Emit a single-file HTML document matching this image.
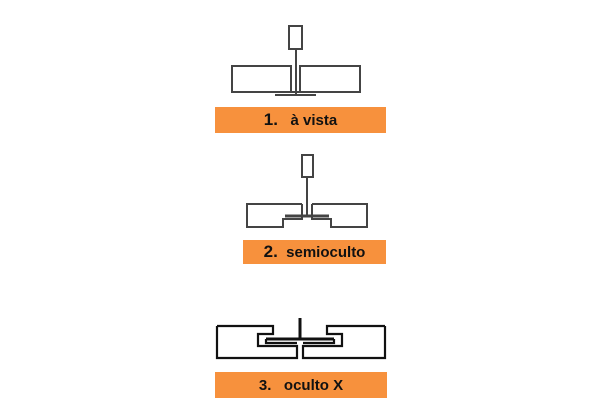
<!DOCTYPE html>
<html><head><meta charset="utf-8"><style>
html,body{margin:0;padding:0;background:#fff;}
body{width:600px;height:400px;position:relative;overflow:hidden;font-family:"Liberation Sans",sans-serif;}
.bar{position:absolute;background:#f7913d;color:#111;font-weight:bold;font-size:15px;display:flex;align-items:center;justify-content:center;}
</style></head><body>
<svg width="600" height="400" style="position:absolute;left:0;top:0" fill="none" stroke-linejoin="miter">
<g stroke="#444" stroke-width="2">
<rect x="289" y="26" width="13" height="23"/>
<line x1="296" y1="49" x2="296" y2="95"/>
<rect x="232" y="66" width="59" height="26"/>
<rect x="300" y="66" width="60" height="26"/>
<line x1="275" y1="95" x2="316" y2="95"/>
<line x1="291" y1="92" x2="300" y2="92"/>

<rect x="302" y="155" width="11" height="22"/>
<line x1="307" y1="177" x2="307" y2="216"/>
<polyline points="302,204 247,204 247,227 283,227 283,219 302,219 302,204"/>
<polyline points="312,204 367,204 367,227 331,227 331,219 312,219 312,204"/>
<line x1="285" y1="216" x2="329" y2="216" stroke-width="3"/>
</g>
<g stroke="#111" stroke-width="2.2">
<polyline points="217,326 273,326 273,334 258,334 258,346 297,346 297,358 217,358 217,326"/>
<polyline points="385,326 327,326 327,334 342,334 342,346 303,346 303,358 385,358 385,326"/>
<line x1="300" y1="318" x2="300" y2="340" stroke-width="3"/>
<line x1="266" y1="339" x2="334" y2="339" stroke-width="3"/>
<polyline points="266,339 266,343 297,343"/>
<polyline points="334,339 334,343 303,343"/>
</g>
</svg>
<div class="bar" style="left:215px;top:107px;width:171px;height:26px;"><span style="font-size:17px">1.</span>&nbsp;&nbsp;&nbsp;à vista</div>
<div class="bar" style="left:243px;top:240px;width:143px;height:24px;"><span style="font-size:17px">2.</span>&nbsp;&nbsp;semioculto</div>
<div class="bar" style="left:215px;top:372px;width:172px;height:26px;">3.&nbsp;&nbsp;&nbsp;oculto X</div>
</body></html>
